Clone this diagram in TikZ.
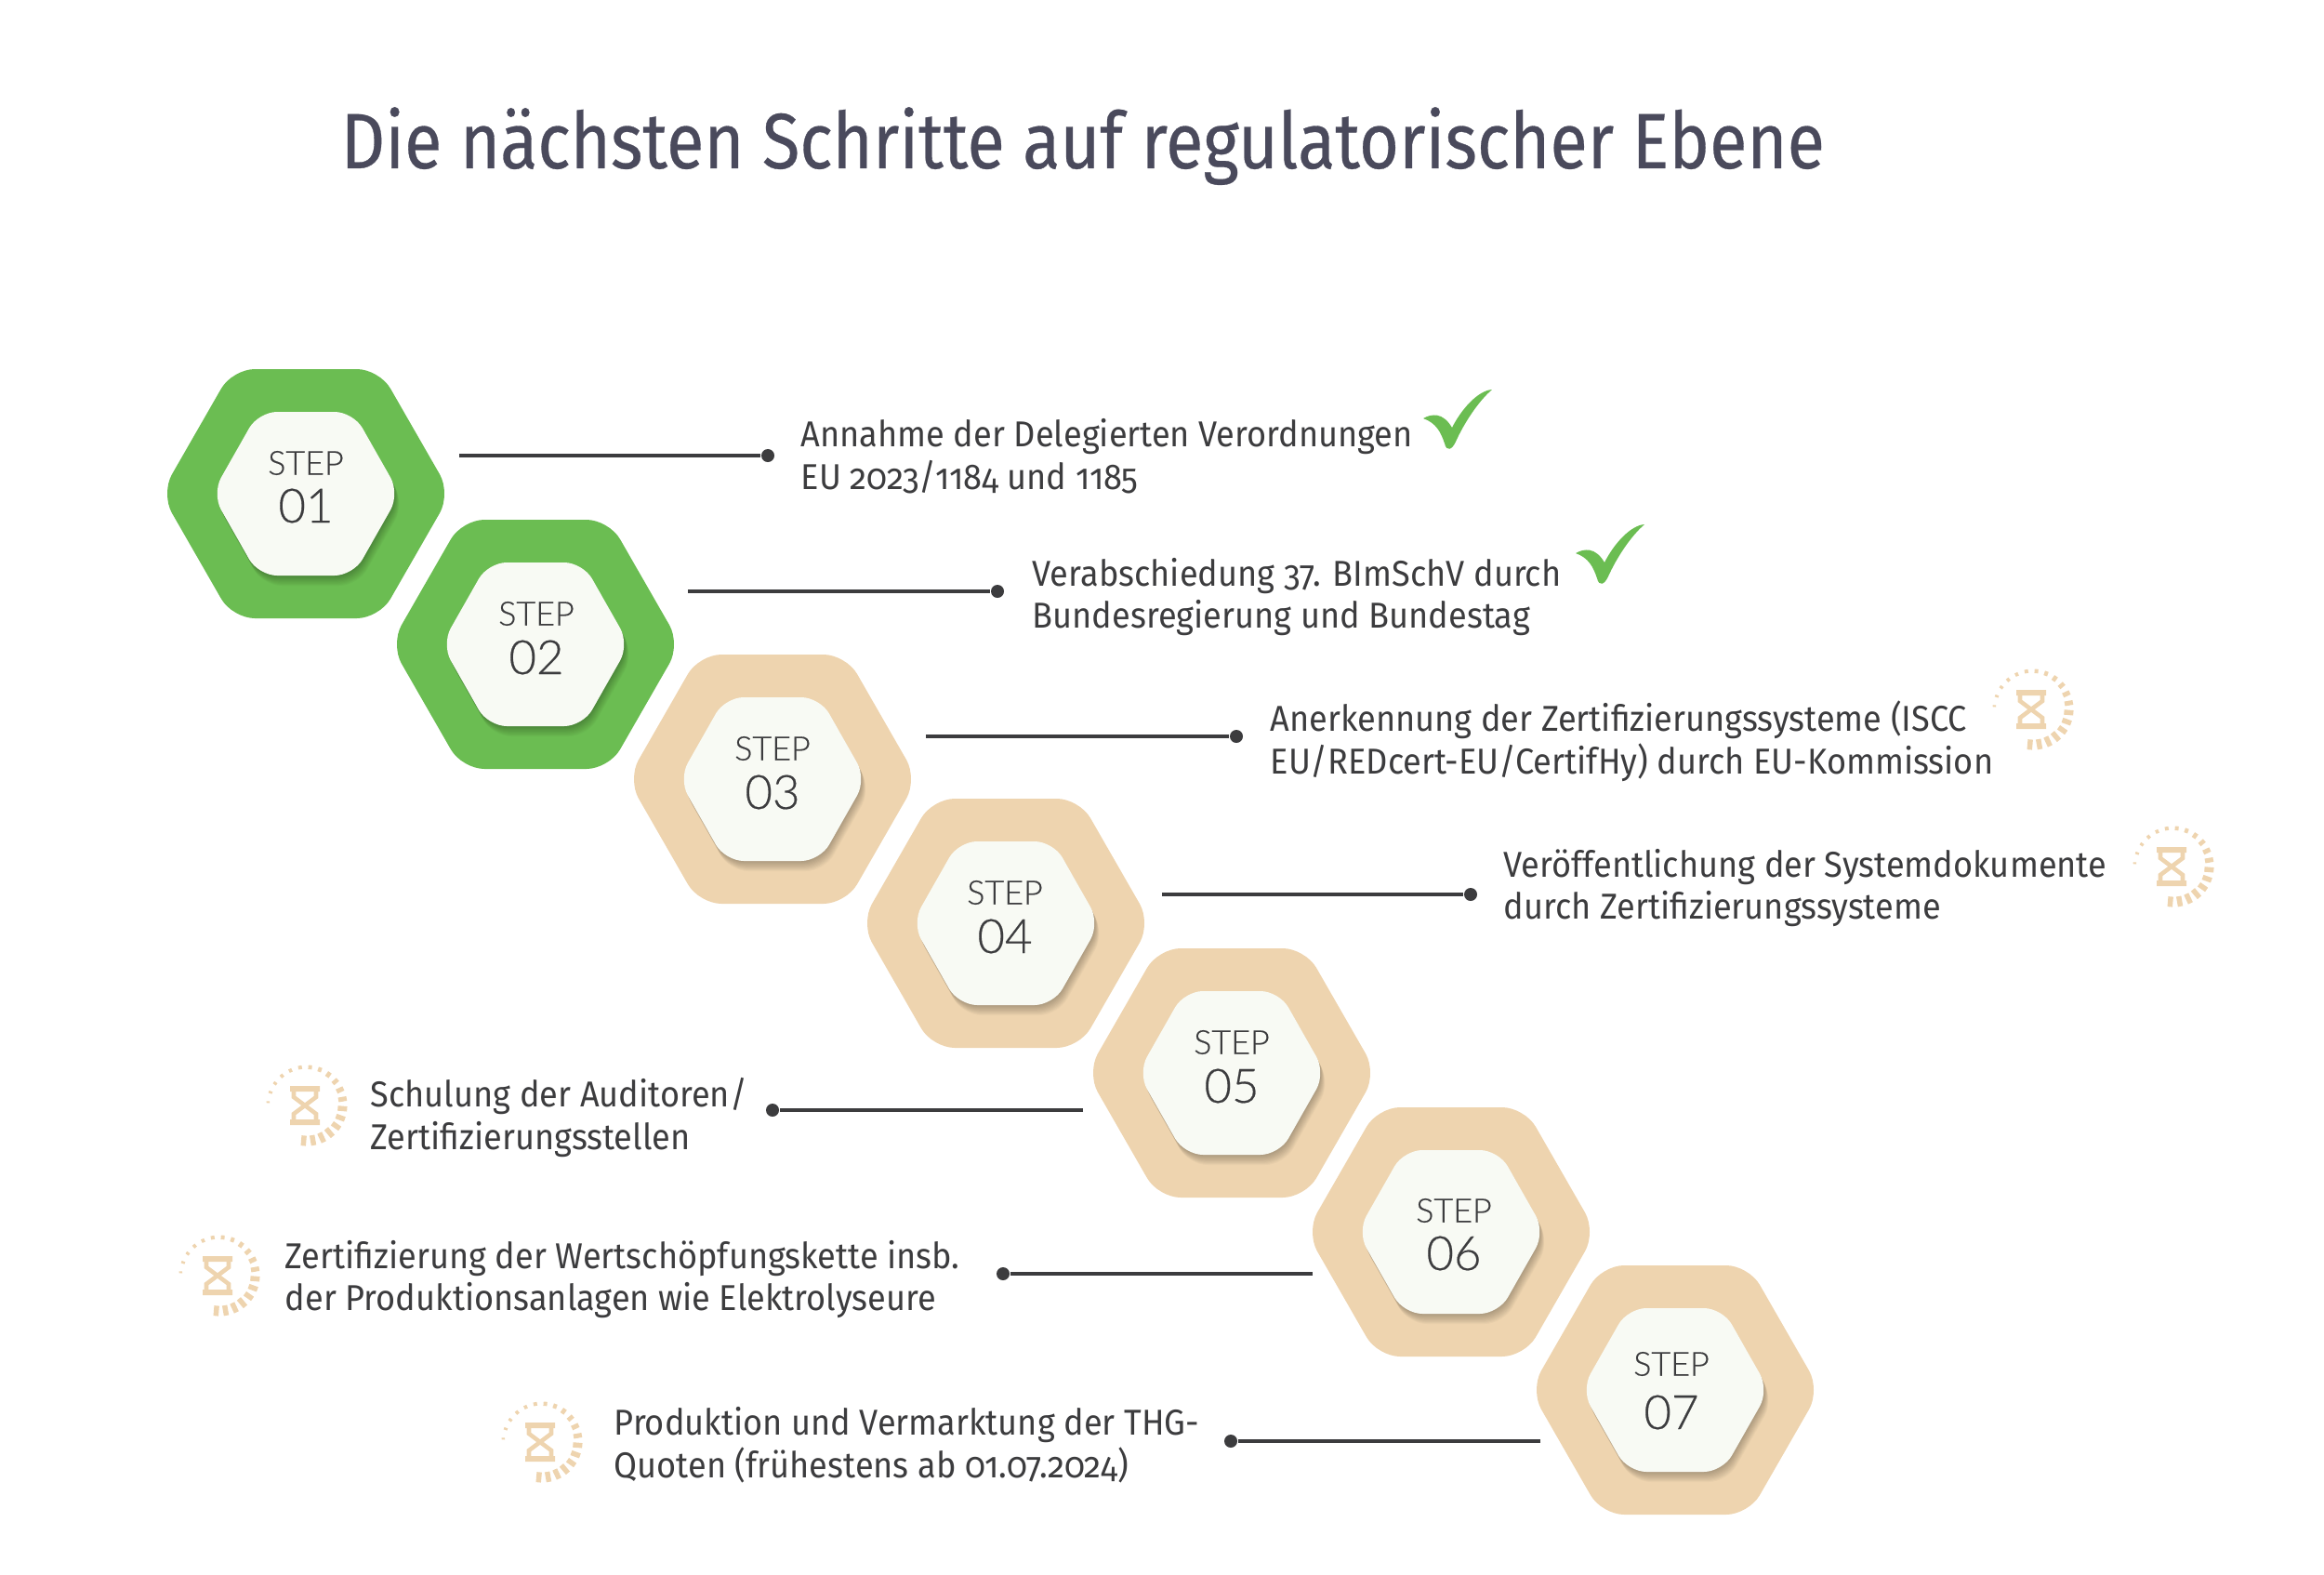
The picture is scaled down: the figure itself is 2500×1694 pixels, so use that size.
\documentclass[tikz,border=0pt]{standalone}
\usepackage{fontspec}
\setmainfont{Fira Sans}[Numbers=OldStyle,FakeStretch=0.935]
\newfontfamily\titlefont{Fira Sans}[FakeStretch=0.875,FakeBold=0.35]
\newfontfamily\stepfont{Lato Light}[FakeBold=0.35]
\definecolor{figG}{RGB}{107,189,82}
\definecolor{figT}{RGB}{238,212,175}
\definecolor{figW}{RGB}{248,250,244}
\definecolor{figK}{RGB}{60,60,62}
\definecolor{figH}{RGB}{74,74,92}
\tikzset{
  conn/.style={figK,line width=1.1pt},
  enddot/.style={circle,fill=figK,inner sep=0pt,minimum size=0.14cm},
  steptxt/.style={anchor=west,align=left,text=figK,inner sep=0pt,font=\fontsize{11}{13.05}\selectfont},
  hourglass/.pic={
    \fill[figT] (-18,-21)rectangle(14,-15) (-18,15)rectangle(14,21);
    \draw[figT,line width=1.3pt] (-14,-16)--(-14,-9)--(10,9)--(10,16) (10,-16)--(10,-9)--(-14,9)--(-14,16);
    \foreach \a/\w/\l in {95/5.5/11,80/5.5/11,65/5.5/11,50/5.5/11,35/5.5/10,20/5.5/10,5/5.5/10,-10/5/9,-25/5/8,-40/4.5/7,-55/4.5/6,-70/4/5,-85/4/4.5,-100/4/4,-115/3.5/4,-130/3.5/4,-145/3/4,-160/2.5/4,-175/2/3.5}
      \draw[figT,line width=\w*0.2835pt] (\a:43.5-\l) -- (\a:43.5);
  }
}
\begin{document}
\begin{tikzpicture}[x=0.01cm,y=-0.01cm]
\useasboundingbox (0,0) rectangle (2500,1694);
\node[anchor=base west,inner sep=0pt,text=figH,font=\titlefont\fontsize{24}{30}\selectfont] (title) at (366,181) {Die nächsten Schritte auf regulatorischer Ebene};
% hexagons
\foreach \n/\cx/\cy/\col/\tx/\la/\nb in {1/329/531/figG/329/498/544,2/576/693/figG/577/660/707,3/831/838/figT/831/805/852,4/1082/993/figT/1081/960/1007,5/1325/1154/figT/1325/1121/1168,6/1561/1325/figT/1564/1302/1348,7/1802/1495/figT/1798/1467/1519}{
  \coordinate (hex\n) at (\cx,\cy);
  \fill[\col,rounded corners=0.24cm] (\cx-156,\cy)--(\cx-79,\cy-134)--(\cx+79,\cy-134)--(\cx+156,\cy)--(\cx+79,\cy+134)--(\cx-79,\cy+134)--cycle;
  % soft shadow
  \foreach \s in {1,...,10}
    \fill[black,opacity=0.028,rounded corners=0.2cm] (\cx-101+\s*0.5,\cy+\s*1.1)--(\cx-51+\s*0.5,\cy-88+\s*1.1)--(\cx+51+\s*0.5,\cy-88+\s*1.1)--(\cx+101+\s*0.5,\cy+\s*1.1)--(\cx+51+\s*0.5,\cy+88+\s*1.1)--(\cx-51+\s*0.5,\cy+88+\s*1.1)--cycle;
  \fill[figW,rounded corners=0.2cm] (\cx-101,\cy)--(\cx-51,\cy-88)--(\cx+51,\cy-88)--(\cx+101,\cy)--(\cx+51,\cy+88)--(\cx-51,\cy+88)--cycle;
  \node[text=figK,inner sep=0pt,font=\stepfont\fontsize{10.2}{12}\selectfont] (lbl\n) at (\tx,\la) {STEP};
  \node[text=figK,inner sep=0pt,font=\stepfont\fontsize{14.5}{18}\selectfont] (num\n) at (\tx,\nb) {0\n};
}
% connectors
\foreach \n/\xa/\xb/\y in {1/494/826/490,2/740/1073/636,3/996/1330/792,4/1250/1582/962,5/1165/831/1194,6/1412/1079/1370,7/1657/1324/1550}{
  \coordinate (start\n) at (\xa,\y);
  \node[enddot] (dot\n) at (\xb,\y) {};
  \draw[conn] (start\n) -- (dot\n);
}
% texts
\node[steptxt] (txt1) at (861,491) {Annahme der Delegierten Verordnungen\\EU 2023/1184 und 1185};
\node[steptxt] (txt2) at (1110,642) {Verabschiedung 37. BImSchV durch\\Bundesregierung und Bundestag};
\node[steptxt] (txt3) at (1366,797) {Anerkennung der Zertifizierungssysteme (ISCC\\EU/REDcert-EU/CertifHy) durch EU-Kommission};
\node[steptxt] (txt4) at (1617,955) {Veröffentlichung der Systemdokumente\\durch Zertifizierungssysteme};
\node[steptxt] (txt5) at (398,1202) {Schulung der Auditoren/\\Zertifizierungsstellen};
\node[steptxt] (txt6) at (306,1376) {Zertifizierung der Wertschöpfungskette insb.\\der Produktionsanlagen wie Elektrolyseure};
\node[steptxt] (txt7) at (660,1554) {Produktion und Vermarktung der THG-\\Quoten (frühestens ab 01.07.2024)};
% checks
\foreach \dx/\dy in {0/0,164/145}
  \fill[figG,shift={(\dx,\dy)}] (1531,450) .. controls (1540,445) and (1552,443) .. (1562,460) .. controls (1572,440) and (1590,420) .. (1605,419) .. controls (1590,432) and (1575,455) .. (1566,475) .. controls (1562,484) and (1556,486) .. (1554,477) .. controls (1550,465) and (1545,455) .. (1531,450) -- cycle;
% hourglasses
\foreach \x/\y in {2187/763,2338/932,330/1189,236/1372,583/1551}
  \pic at (\x,\y) {hourglass};
\end{tikzpicture}
\end{document}
